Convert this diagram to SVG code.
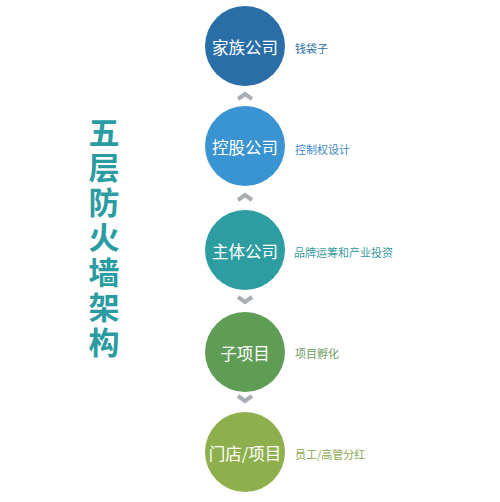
<svg xmlns="http://www.w3.org/2000/svg" width="500" height="502" viewBox="0 0 500 502">
<style>
.lbl{font-family:"Noto Sans CJK SC","Noto Sans",sans-serif;font-size:16.5px;fill:#fff;text-anchor:middle;dominant-baseline:central}
.side{font-family:"Noto Sans CJK SC","Noto Sans",sans-serif;font-size:11px;dominant-baseline:central}
.title{font-family:"Noto Sans CJK SC",sans-serif;font-size:31px;font-weight:bold;fill:#2a9ca2;writing-mode:vertical-rl;letter-spacing:4px}
.chev{fill:none;stroke:#a9aeb4;stroke-width:4;stroke-linecap:butt;stroke-linejoin:miter}
</style>
<rect width="500" height="502" fill="#fff"/>
<g id="title">
<text class="title" x="104" y="117">五层防火墙架构</text>
</g>
<g id="connectors">
<path class="chev" d="M238,99 L245,94 L252,99"/>
<path class="chev" d="M238,200 L245,195 L252,200"/>
<path class="chev" d="M238,297 L245,302 L252,297"/>
<path class="chev" d="M238,396 L245,401 L252,396"/>
</g>
<g id="n1">
<circle cx="245" cy="46" r="40" fill="#2a6ea8"/>
<text class="lbl" x="245" y="47">家族公司</text>
<text class="side" x="295" y="48" fill="#2a6ea8">钱袋子</text>
</g>
<g id="n2">
<circle cx="245" cy="146" r="40" fill="#3a94d2"/>
<text class="lbl" x="245" y="147">控股公司</text>
<text class="side" x="295" y="149" fill="#3a88c4">控制权设计</text>
</g>
<g id="n3">
<circle cx="245" cy="250" r="40" fill="#2e9da2"/>
<text class="lbl" x="245" y="251">主体公司</text>
<text class="side" x="294" y="252" fill="#3a9ba0">品牌运筹和产业投资</text>
</g>
<g id="n4">
<circle cx="245" cy="352" r="40" fill="#5f9d55"/>
<text class="lbl" x="245" y="353">子项目</text>
<text class="side" x="295" y="353" fill="#6a9a60">项目孵化</text>
</g>
<g id="n5">
<circle cx="245" cy="452" r="40" fill="#8eb04c"/>
<text class="lbl" x="245" y="453">门店/项目</text>
<text class="side" x="295" y="454" fill="#8aa84e">员工/高管分红</text>
</g>
</svg>
